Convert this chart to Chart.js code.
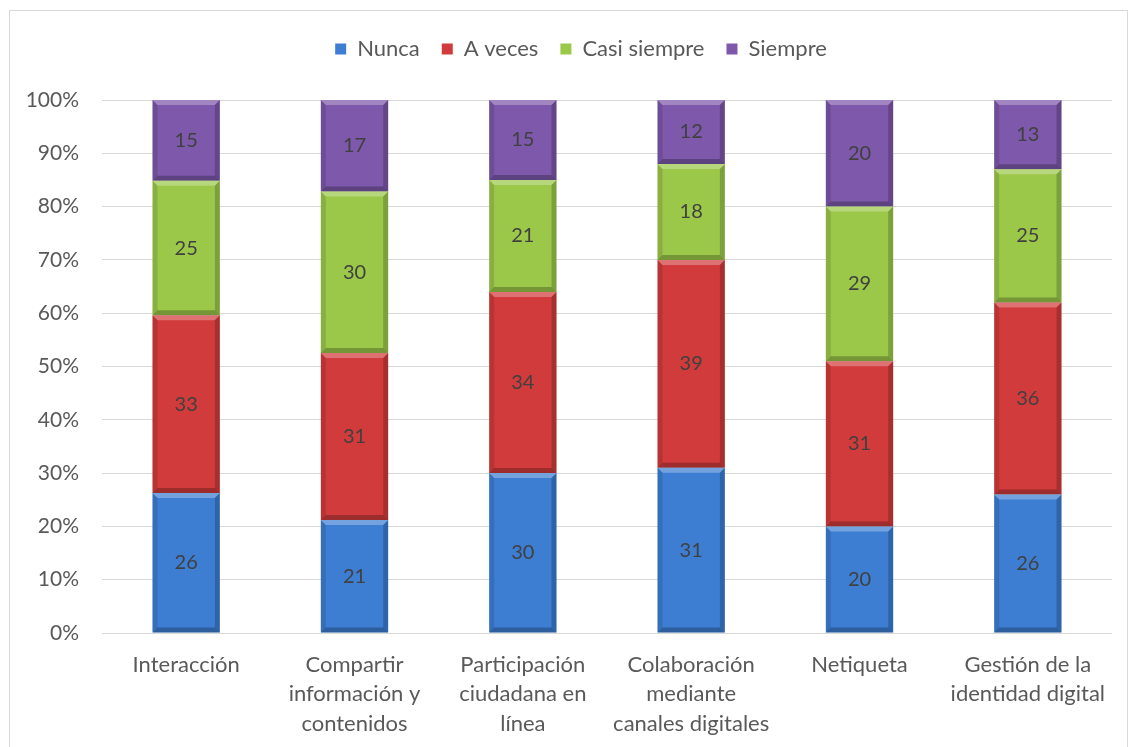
<!DOCTYPE html>
<html>
<head>
<meta charset="utf-8">
<script src="https://cdn.jsdelivr.net/npm/chart.js@4"></script>
<style>
  html, body { margin: 0; padding: 0; background: #fff; }
  #wrap { width: 1129px; height: 747px; position: relative; }
</style>
</head>
<body>
<div id="wrap"><canvas id="chart"></canvas></div>
<script>
const categories = [
  'Interacción',
  ['Compartir', 'información y', 'contenidos'],
  ['Participación', 'ciudadana en', 'línea'],
  ['Colaboración', 'mediante', 'canales digitales'],
  'Netiqueta',
  ['Gestión de la', 'identidad digital'],
];
const nunca = [26, 21, 30, 31, 20, 26];
const aVeces = [33, 31, 34, 39, 31, 36];
const casiSiempre = [25, 30, 21, 18, 29, 25];
const siempre = [15, 17, 15, 12, 20, 13];
const yTicks = [0, 10, 20, 30, 40, 50, 60, 70, 80, 90, 100];

const FONT = 'Lato, "Open Sans", sans-serif';
const TEXT = '#595959';

const totals = nunca.map((v, i) => v + aVeces[i] + casiSiempre[i] + siempre[i]);
const toPct = (arr) => arr.map((v, i) => (v / totals[i]) * 100);

const series = [
  { label: 'Nunca', raw: nunca, color: '#3d7ed3' },
  { label: 'A veces', raw: aVeces, color: '#d23b3b' },
  { label: 'Casi siempre', raw: casiSiempre, color: '#9cc84a' },
  { label: 'Siempre', raw: siempre, color: '#7d58ab' },
];

// bevel look + value labels drawn on top of each bar
const barDecor = {
  id: 'barDecor',
  afterDatasetsDraw(chart) {
    const ctx = chart.ctx;
    const b = 5;
    chart.data.datasets.forEach((ds, di) => {
      const meta = chart.getDatasetMeta(di);
      meta.data.forEach((bar) => {
        const l = bar.x - bar.width / 2;
        const r = bar.x + bar.width / 2;
        const t = Math.min(bar.y, bar.base);
        const btm = Math.max(bar.y, bar.base);
        ctx.save();
        ctx.fillStyle = 'rgba(255,255,255,0.28)';
        ctx.beginPath();
        ctx.moveTo(l, t); ctx.lineTo(r, t); ctx.lineTo(r - b, t + b); ctx.lineTo(l + b, t + b);
        ctx.closePath(); ctx.fill();
        ctx.fillStyle = 'rgba(0,0,0,0.25)';
        ctx.beginPath();
        ctx.moveTo(l, btm); ctx.lineTo(r, btm); ctx.lineTo(r - b, btm - b); ctx.lineTo(l + b, btm - b);
        ctx.closePath(); ctx.fill();
        ctx.fillStyle = 'rgba(0,0,0,0.12)';
        ctx.beginPath();
        ctx.moveTo(l, t); ctx.lineTo(l + b, t + b); ctx.lineTo(l + b, btm - b); ctx.lineTo(l, btm);
        ctx.closePath(); ctx.fill();
        ctx.fillStyle = 'rgba(0,0,0,0.2)';
        ctx.beginPath();
        ctx.moveTo(r, t); ctx.lineTo(r - b, t + b); ctx.lineTo(r - b, btm - b); ctx.lineTo(r, btm);
        ctx.closePath(); ctx.fill();
        ctx.restore();
      });
    });
    ctx.save();
    ctx.font = `20px ${FONT}`;
    ctx.fillStyle = '#404040';
    ctx.textAlign = 'center';
    ctx.textBaseline = 'middle';
    chart.data.datasets.forEach((ds, di) => {
      const meta = chart.getDatasetMeta(di);
      meta.data.forEach((bar, i) => {
        ctx.fillText(String(ds.raw[i]), bar.x, (bar.y + bar.base) / 2);
      });
    });
    ctx.restore();
  },
};

const frame = {
  id: 'frame',
  beforeInit(chart) {
    // leave room between the legend and the plot
    const fit = chart.legend.fit;
    chart.legend.fit = function () {
      fit.call(this);
      this.height += 30;
    };
  },
  afterLayout(chart) {
    chart.legend.left += 15;
    chart.legend.right += 15;
  },
  beforeDraw(chart) {
    const ctx = chart.ctx;
    ctx.save();
    ctx.strokeStyle = '#d9d9d9';
    ctx.lineWidth = 1;
    ctx.strokeRect(9.5, 10.5, 1118, 760);
    ctx.restore();
  },
};

new Chart(document.getElementById('chart'), {
  type: 'bar',
  data: {
    labels: categories,
    datasets: series.map((s) => ({
      label: s.label,
      raw: s.raw,
      data: toPct(s.raw),
      backgroundColor: s.color,
      borderWidth: 0,
      barPercentage: 0.8,
      categoryPercentage: 0.5,
    })),
  },
  options: {
    responsive: true,
    maintainAspectRatio: false,
    animation: false,
    layout: { padding: { top: 16, left: 20, right: 17, bottom: 0 } },
    plugins: {
      legend: {
        position: 'top',
        labels: {
          boxWidth: 11,
          boxHeight: 11,
          padding: 22,
          color: TEXT,
          font: { family: FONT, size: 22 },
        },
      },
      tooltip: { enabled: false },
    },
    scales: {
      x: {
        stacked: true,
        grid: { display: false },
        border: { display: false },
        ticks: {
          color: TEXT,
          maxRotation: 0,
          autoSkip: false,
          padding: 9,
          font: { family: FONT, size: 22, lineHeight: 1.34 },
        },
        afterFit: (scale) => { scale.height = 114; },
      },
      y: {
        stacked: true,
        min: 0,
        max: 100,
        afterBuildTicks: (scale) => { scale.ticks = yTicks.map((v) => ({ value: v })); },
        grid: { color: '#d9d9d9', drawTicks: false },
        border: { display: false },
        ticks: {
          color: TEXT,
          padding: 23,
          font: { family: FONT, size: 21 },
          callback: (v) => `${v}%`,
        },
        afterFit: (scale) => { scale.width = 82; },
      },
    },
  },
  plugins: [frame, barDecor],
});
</script>
</body>
</html>
